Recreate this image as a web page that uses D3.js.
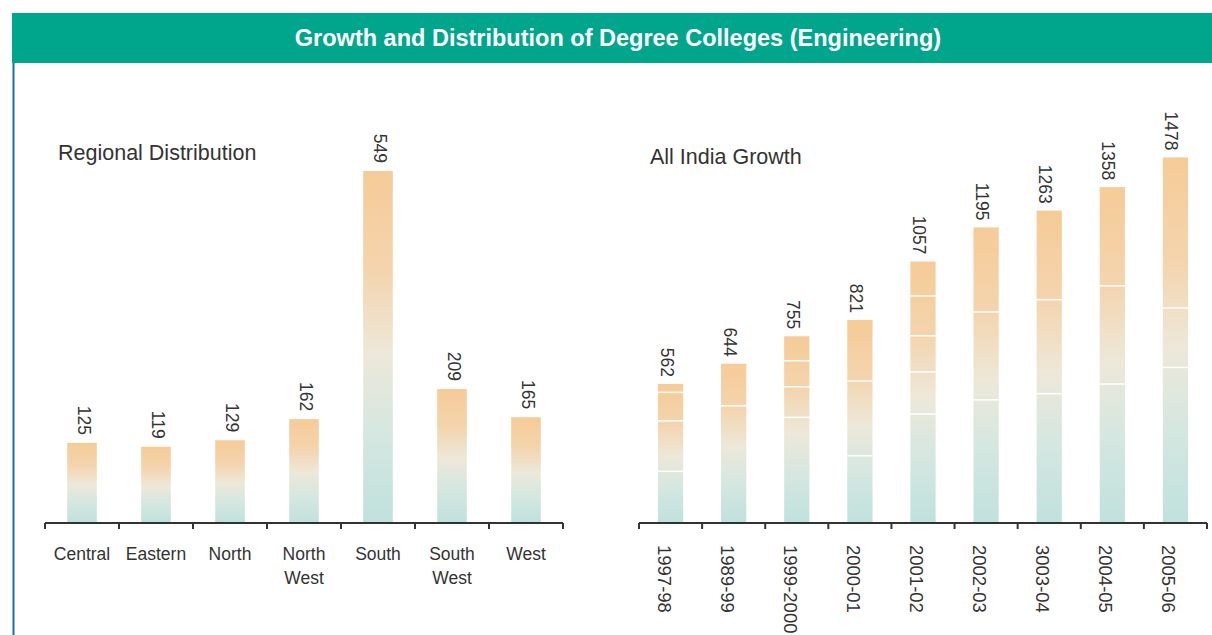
<!DOCTYPE html>
<html>
<head>
<meta charset="utf-8">
<script src="https://cdn.jsdelivr.net/npm/d3@7"></script>
<style>
  body { margin: 0; background: #fff; }
  svg { display: block; font-family: "Liberation Sans", Arial, sans-serif; }
</style>
</head>
<body>
<svg id="vis" width="1212" height="635"></svg>
<script>
// regional distribution
var regions = ["Central", "Eastern", "North", "North West", "South", "South West", "West"];
var regionValues = [125, 119, 129, 162, 549, 209, 165];

// all india growth
var years = ["1997-98", "1989-99", "1999-2000", "2000-01", "2001-02", "2002-03", "3003-04", "2004-05", "2005-06"];
var yearTotals = [562, 644, 755, 821, 1057, 1195, 1263, 1358, 1478];
// stacked parts of each bar, bottom to top
var yearParts = [
    [209, 204, 115, 34],
    [474, 170],
    [427, 124, 105, 99],
    [272, 302, 247],
    [441, 170, 146, 161, 139],
    [498, 355, 342],
    [523, 380, 360],
    [562, 397, 399],
    [629, 240, 609]
];

var svg = d3.select("#vis");

var defs = svg.append("defs");
var grad = defs.append("linearGradient")
    .attr("id", "barGrad")
    .attr("x1", 0).attr("y1", 0)
    .attr("x2", 0).attr("y2", 1);
[["0%", "#f6cb97"], ["28%", "#f4d4ad"], ["52%", "#ede8d9"], ["74%", "#d5e7e0"], ["100%", "#c0e1de"]]
    .forEach(function(s) {
        grad.append("stop").attr("offset", s[0]).attr("stop-color", s[1]);
    });

// header band
svg.append("rect")
    .attr("x", 12).attr("y", 13)
    .attr("width", 1200).attr("height", 50)
    .attr("fill", "#00a68c");
svg.append("text")
    .attr("x", 618).attr("y", 46)
    .attr("text-anchor", "middle")
    .attr("fill", "#fff")
    .attr("font-size", 23.5)
    .attr("font-weight", "bold")
    .text("Growth and Distribution of Degree Colleges (Engineering)");
svg.append("line")
    .attr("x1", 13.5).attr("x2", 13.5)
    .attr("y1", 63).attr("y2", 635)
    .attr("stroke", "#1f6cb0")
    .attr("stroke-width", 2);

function drawAxis(g, x, y0) {
    g.append("line")
        .attr("x1", x.range()[0]).attr("x2", x.range()[1])
        .attr("y1", y0).attr("y2", y0)
        .attr("stroke", "#333").attr("stroke-width", 2);
    var edges = x.domain().map(function(d) { return x(d) - x.step() * x.paddingOuter(); });
    edges.push(x.range()[1]);
    g.selectAll(".tk").data(edges).enter().append("line")
        .attr("x1", function(d) { return d; })
        .attr("x2", function(d) { return d; })
        .attr("y1", y0).attr("y2", y0 + 6)
        .attr("stroke", "#333").attr("stroke-width", 2);
}

// ---- left chart
var left = svg.append("g");
var x1 = d3.scaleBand().domain(regions).range([45, 563]).paddingInner(0.6).paddingOuter(0.3);
var y1 = d3.scaleLinear().domain([0, 560]).range([523, 164]);

left.append("text")
    .attr("x", 58).attr("y", 160)
    .attr("font-size", 21.5).attr("fill", "#333")
    .text("Regional Distribution");

left.selectAll(".bar").data(regionValues).enter().append("rect")
    .attr("x", function(d, i) { return x1(regions[i]); })
    .attr("y", function(d) { return y1(d); })
    .attr("width", x1.bandwidth())
    .attr("height", function(d) { return y1(0) - y1(d); })
    .attr("fill", "url(#barGrad)");

left.selectAll(".val").data(regionValues).enter().append("text")
    .attr("transform", function(d, i) {
        return "translate(" + (x1(regions[i]) + x1.bandwidth() / 2 - 4) + "," + (y1(d) - 8) + ") rotate(90)";
    })
    .attr("text-anchor", "end")
    .attr("font-size", 17.5).attr("fill", "#333")
    .text(function(d) { return d; });

drawAxis(left, x1, 523);

left.selectAll(".cat").data(regions).enter().append("text")
    .attr("x", function(d) { return x1(d) + x1.bandwidth() / 2; })
    .attr("y", 560)
    .attr("text-anchor", "middle")
    .attr("font-size", 17.5).attr("fill", "#333")
    .each(function(d) {
        var t = d3.select(this);
        d.split(" ").forEach(function(w, k) {
            t.append("tspan")
                .attr("x", t.attr("x"))
                .attr("dy", k ? 24 : 0)
                .text(w);
        });
    });

// ---- right chart
var right = svg.append("g");
var x2 = d3.scaleBand().domain(years).range([639, 1207]).paddingInner(0.6).paddingOuter(0.3);
var y2 = d3.scaleLinear().domain([0, 1500]).range([523, 152]);

right.append("text")
    .attr("x", 650).attr("y", 164)
    .attr("font-size", 21.5).attr("fill", "#333")
    .text("All India Growth");

right.selectAll(".bar").data(yearTotals).enter().append("rect")
    .attr("x", function(d, i) { return x2(years[i]); })
    .attr("y", function(d) { return y2(d); })
    .attr("width", x2.bandwidth())
    .attr("height", function(d) { return y2(0) - y2(d); })
    .attr("fill", "url(#barGrad)");

// white separators between stacked parts
yearParts.forEach(function(parts, i) {
    var cum = 0;
    parts.slice(0, -1).forEach(function(p) {
        cum += p;
        right.append("line")
            .attr("x1", x2(years[i])).attr("x2", x2(years[i]) + x2.bandwidth())
            .attr("y1", y2(cum)).attr("y2", y2(cum))
            .attr("stroke", "#fff").attr("stroke-width", 1.5);
    });
});

right.selectAll(".val").data(yearTotals).enter().append("text")
    .attr("transform", function(d, i) {
        return "translate(" + (x2(years[i]) + x2.bandwidth() / 2 - 10) + "," + (y2(d) - 7) + ") rotate(90)";
    })
    .attr("text-anchor", "end")
    .attr("font-size", 17.5).attr("fill", "#333")
    .text(function(d) { return d; });

drawAxis(right, x2, 523);

right.selectAll(".cat").data(years).enter().append("text")
    .attr("transform", function(d) {
        return "translate(" + (x2(d) + x2.bandwidth() / 2 - 13) + ",545) rotate(90)";
    })
    .attr("font-size", 18.5).attr("fill", "#333")
    .text(function(d) { return d; });
</script>
</body>
</html>
